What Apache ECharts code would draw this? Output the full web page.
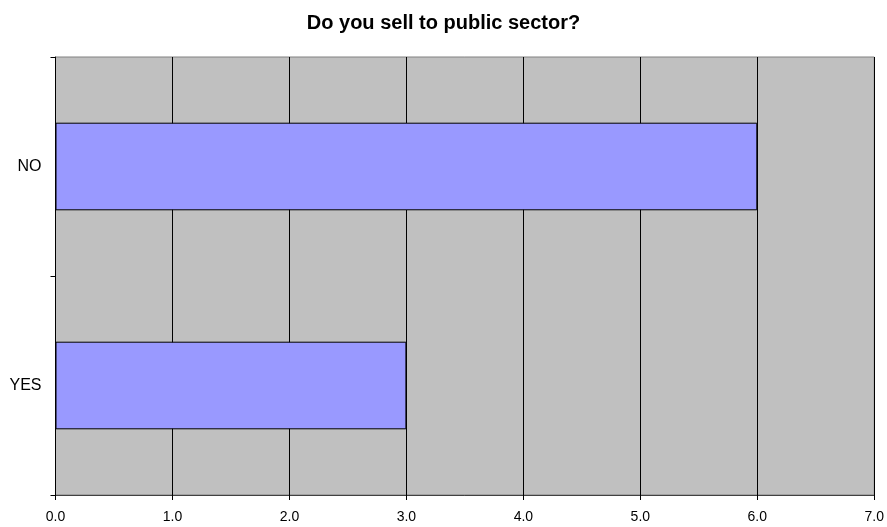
<!DOCTYPE html>
<html>
<head>
<meta charset="utf-8">
<script src="https://cdn.jsdelivr.net/npm/echarts@6/dist/echarts.min.js"></script>
<style>
  html, body { margin: 0; padding: 0; background: #fff; }
  #chart { width: 887px; height: 527px; }
</style>
</head>
<body>
<div id="chart"></div>
<script>
// bottom-to-top order, as echarts lays out category y axes
const categories = ['YES', 'NO']
const answers = [3, 6]
const xTicks = ['0.0', '1.0', '2.0', '3.0', '4.0', '5.0', '6.0', '7.0']

const chart = echarts.init(document.getElementById('chart'))

chart.setOption({
  animation: false,
  backgroundColor: '#fff',
  textStyle: { fontFamily: 'Liberation Sans, Arial, sans-serif' },
  title: {
    text: 'Do you sell to public sector?',
    left: 'center',
    top: 8,
    textStyle: { fontSize: 20, fontWeight: 'bold', color: '#000' },
  },
  grid: {
    left: 55.5,
    right: 11.5,
    top: 57,
    bottom: 32,
    show: true,
    backgroundColor: '#C0C0C0',
    borderColor: '#808080',
    borderWidth: 1,
  },
  xAxis: {
    type: 'value',
    min: 0,
    max: 7,
    interval: 1,
    axisLine: { show: true, lineStyle: { color: '#404040', width: 1 } },
    axisTick: { show: true, length: 5, lineStyle: { color: '#000' } },
    axisLabel: {
      color: '#000',
      fontSize: 14,
      margin: 15,
      formatter: v => xTicks[v],
    },
    splitLine: { show: true, lineStyle: { color: '#000', width: 1 } },
  },
  yAxis: {
    type: 'category',
    data: categories,
    axisLine: { show: true, lineStyle: { color: '#000', width: 1 } },
    axisTick: { show: true, length: 5, alignWithLabel: false, lineStyle: { color: '#000' } },
    axisLabel: { color: '#000', fontSize: 16, margin: 14 },
    splitLine: { show: false },
  },
  series: [
    {
      type: 'bar',
      data: answers,
      barWidth: '40%',
      itemStyle: {
        color: '#9999FF',
        borderColor: '#000',
        borderWidth: 1,
      },
    },
  ],
})
</script>
</body>
</html>
